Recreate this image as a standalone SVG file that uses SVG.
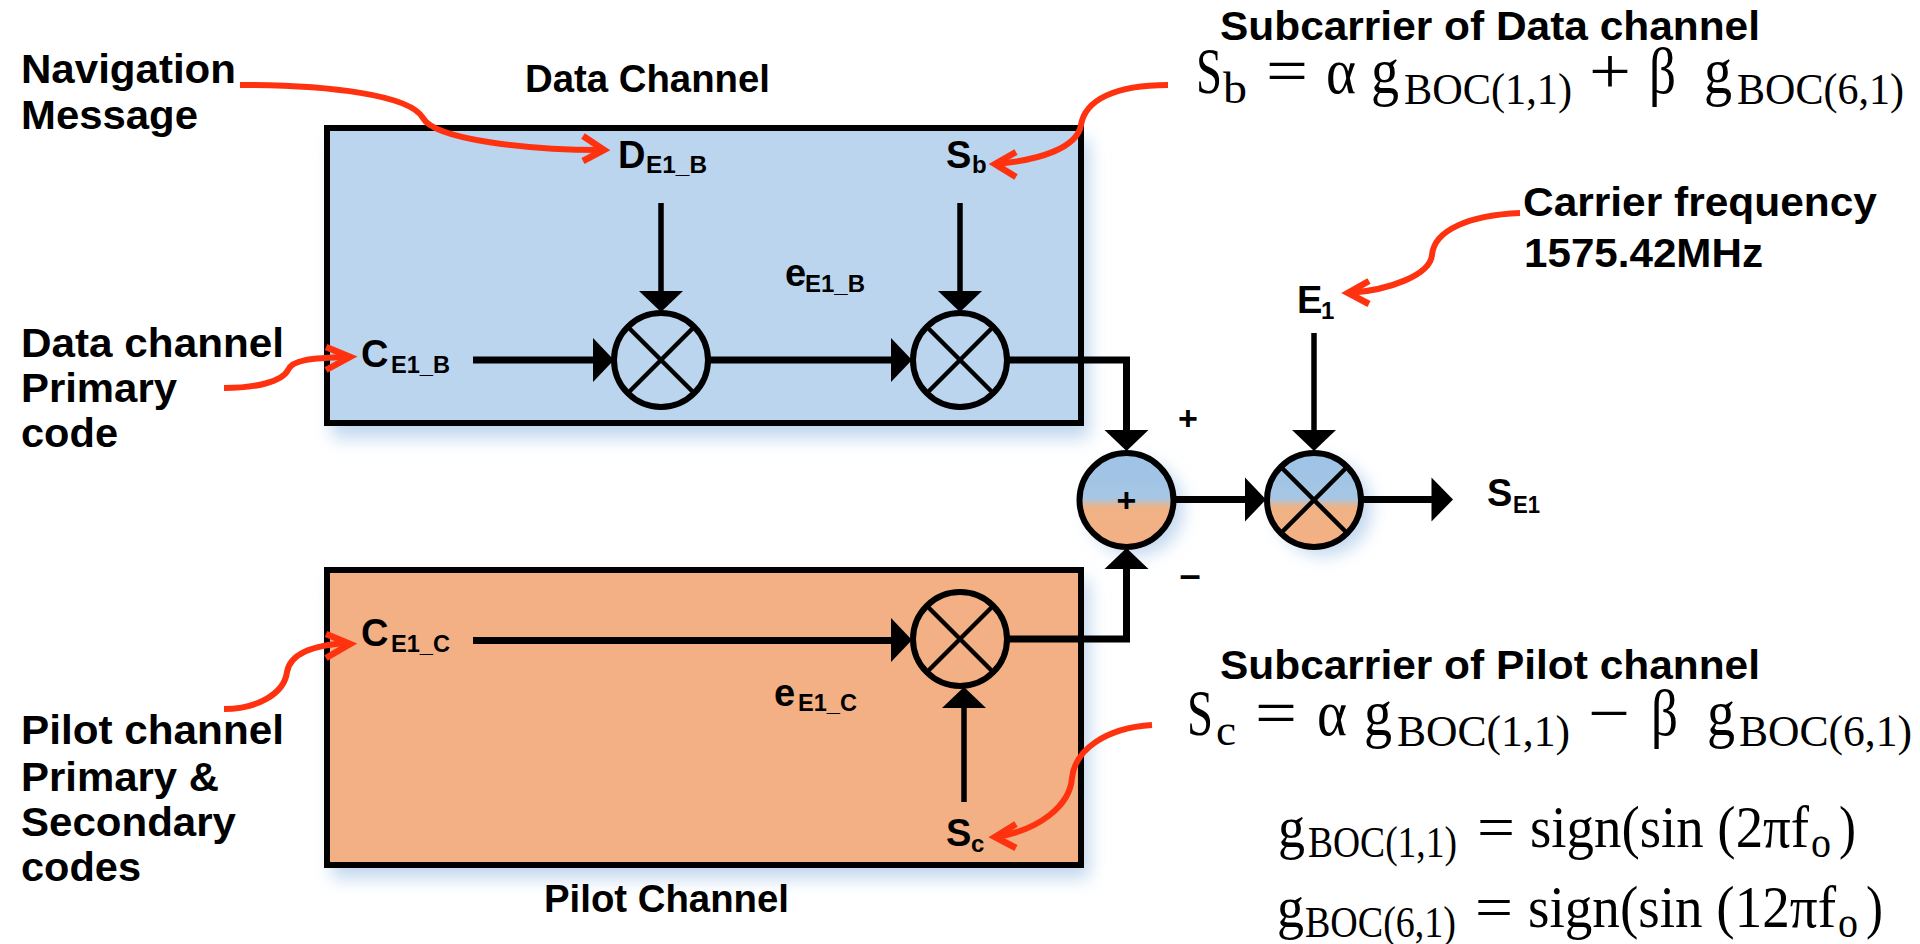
<svg xmlns="http://www.w3.org/2000/svg" width="1920" height="944" viewBox="0 0 1920 944">
<style>
text{font-family:"Liberation Sans",Arial,sans-serif;fill:#000}
.b{font-weight:700}
.big{font-size:41px;font-weight:700}
.lab{font-size:38px;font-weight:700}
.sub{font-size:24px;font-weight:700}
.m{font-family:"Liberation Serif","Times New Roman",serif;font-size:66px}
.ms{font-family:"Liberation Serif","Times New Roman",serif;font-size:44px}
.c{stroke:#000;stroke-width:6}
.x{stroke:#000;stroke-width:4.5;fill:none}
.w{fill:none;stroke:#000;stroke-width:5.5}
.w6{stroke-width:7}
.r{fill:none;stroke:#ff3210;stroke-width:6}
.h{fill:none;stroke:#ff3210;stroke-width:6.5}
.a{fill:#000}
</style>
<defs>
<linearGradient id="grad" x1="0" y1="0" x2="0" y2="1">
<stop offset="0" stop-color="#9dc3e6"/><stop offset="0.48" stop-color="#a6c6e4"/><stop offset="0.58" stop-color="#f0b285"/><stop offset="1" stop-color="#f3b084"/>
</linearGradient>
<filter id="sh" x="-10%" y="-10%" width="120%" height="130%">
<feGaussianBlur stdDeviation="9"/>
</filter>
</defs>
<rect width="1920" height="944" fill="#fff"/>
<g id="shadows" fill="#bfd5ee" filter="url(#sh)">
<rect x="332" y="140" width="757" height="298"/>
<rect x="332" y="580" width="757" height="298"/>
<circle cx="1136" cy="508" r="47"/>
<circle cx="1324" cy="508" r="47"/>
</g>
<g id="data-channel">
<rect x="327" y="128" width="754" height="295" fill="#bbd5ee" stroke="#000" stroke-width="6"/>
<text class="lab" x="525" y="92" textLength="245" lengthAdjust="spacingAndGlyphs">Data Channel</text>
</g>
<g id="pilot-channel">
<rect x="327" y="570" width="754" height="295" fill="#f2b084" stroke="#000" stroke-width="6"/>
<text class="lab" x="544" y="912" textLength="245" lengthAdjust="spacingAndGlyphs">Pilot Channel</text>
</g>
<g id="connectors">
<path class="w w6" d="M473 360H600"/><path class="a" d="M593 338L614 360L593 382Z"/>
<path class="w" d="M661 203V295"/><path class="a" d="M639 291H683L661 312Z"/>
<path class="w w6" d="M706 360H895"/><path class="a" d="M891 338L912 360L891 382Z"/>
<path class="w" d="M960 203V295"/><path class="a" d="M938 291H982L960 312Z"/>
<path class="w w6" d="M1006 360H1126.500V435" stroke-linejoin="miter"/><path class="a" d="M1104.500 430H1148.500L1126.500 451Z"/>
<path class="w" d="M1314 333V435"/><path class="a" d="M1292 430H1336L1314 451Z"/>
<path class="w w6" d="M1172 499.500H1250"/><path class="a" d="M1245 477.500L1266 499.500L1245 521.500Z"/>
<path class="w w6" d="M1360 499.500H1436"/><path class="a" d="M1431.500 477.500L1453 499.500L1431.500 521.500Z"/>
<path class="w w6" d="M473 640.500H895"/><path class="a" d="M891 618L912 640L891 662Z"/>
<path class="w w6" d="M1006 639H1126.500V565"/><path class="a" d="M1104.500 569H1148.500L1126.500 548Z"/>
<path class="w" d="M964 802V704"/><path class="a" d="M942 708H986L964 687Z"/>
</g>
<g id="mult-1"><circle class="c" cx="661" cy="360" r="47" fill="#bbd5ee"/><path class="x" d="M628 327L694 393M694 327L628 393"/></g>
<g id="mult-2"><circle class="c" cx="960" cy="360" r="47" fill="#bbd5ee"/><path class="x" d="M927 327L993 393M993 327L927 393"/></g>
<g id="mult-3"><circle class="c" cx="960" cy="639" r="47" fill="#f2b084"/><path class="x" d="M927 606L993 672M993 606L927 672"/></g>
<g id="sum"><circle class="c" cx="1126.500" cy="500" r="47" fill="url(#grad)"/><text class="b" x="1126.500" y="512" font-size="34" text-anchor="middle">+</text></g>
<g id="mult-4"><circle class="c" cx="1314" cy="500" r="47" fill="url(#grad)"/><path class="x" d="M1281 467L1347 533M1347 467L1281 533"/></g>
<g id="signs">
<text class="b" x="1188" y="430" font-size="34" text-anchor="middle">+</text>
<text class="b" x="1190" y="588" font-size="38" text-anchor="middle">–</text>
</g>
<g id="signal-labels">
<text class="lab" x="618" y="168">D<tspan class="sub" x="646" y="173" textLength="61" lengthAdjust="spacingAndGlyphs">E1_B</tspan></text>
<text class="lab" x="946" y="168">S<tspan class="sub" x="972" y="173">b</tspan></text>
<text class="lab" x="361" y="367">C<tspan class="sub" x="391" y="373" textLength="59" lengthAdjust="spacingAndGlyphs">E1_B</tspan></text>
<text class="lab" x="785" y="286">e<tspan class="sub" x="805" y="292" textLength="60" lengthAdjust="spacingAndGlyphs">E1_B</tspan></text>
<text class="lab" x="361" y="646">C<tspan class="sub" x="391" y="652" textLength="59" lengthAdjust="spacingAndGlyphs">E1_C</tspan></text>
<text class="lab" x="774" y="706">e<tspan class="sub" x="798" y="711" textLength="59" lengthAdjust="spacingAndGlyphs">E1_C</tspan></text>
<text class="lab" x="946" y="846">S<tspan class="sub" x="971" y="852">c</tspan></text>
<text class="lab" x="1297" y="313">E<tspan class="sub" x="1321" y="319">1</tspan></text>
<text class="lab" x="1487" y="506">S<tspan class="sub" x="1513" y="513" textLength="27" lengthAdjust="spacingAndGlyphs">E1</tspan></text>
</g>
<g id="callout-navigation">
<text class="big" x="21" y="83" textLength="215" lengthAdjust="spacingAndGlyphs">Navigation</text>
<text class="big" x="21" y="129" textLength="177" lengthAdjust="spacingAndGlyphs">Message</text>
<path class="r" d="M240 85C330 85 410 95 423 118C435 140 530 150 600 150"/>
<path class="h" d="M583 136L604 150L583 161"/>
</g>
<g id="callout-data-code">
<text class="big" x="21" y="357" textLength="263" lengthAdjust="spacingAndGlyphs">Data channel</text>
<text class="big" x="21" y="402" textLength="156" lengthAdjust="spacingAndGlyphs">Primary</text>
<text class="big" x="21" y="447" textLength="97" lengthAdjust="spacingAndGlyphs">code</text>
<path class="r" d="M224 388C255 388 282 382 288 370C292 360 310 358 348 357"/>
<path class="h" d="M326 347L350 357L326 370"/>
</g>
<g id="callout-pilot-code">
<text class="big" x="21" y="744" textLength="263" lengthAdjust="spacingAndGlyphs">Pilot channel</text>
<text class="big" x="21" y="791" textLength="198" lengthAdjust="spacingAndGlyphs">Primary &amp;</text>
<text class="big" x="21" y="836" textLength="215" lengthAdjust="spacingAndGlyphs">Secondary</text>
<text class="big" x="21" y="881" textLength="120" lengthAdjust="spacingAndGlyphs">codes</text>
<path class="r" d="M224 709C255 709 284 695 287 672C290 655 310 645 348 643"/>
<path class="h" d="M326 634L350 644L326 658"/>
</g>
<g id="callout-carrier">
<text class="big" x="1523" y="216" textLength="354" lengthAdjust="spacingAndGlyphs">Carrier frequency</text>
<text class="big" x="1524" y="267" textLength="239" lengthAdjust="spacingAndGlyphs">1575.42MHz</text>
<path class="r" d="M1520 213C1470 215 1434 230 1432 255C1430 275 1390 290 1349 293"/>
<path class="h" d="M1369 281L1348 293L1369 304"/>
</g>
<g id="callout-sb">
<text class="big" x="1220" y="40" textLength="540" lengthAdjust="spacingAndGlyphs">Subcarrier of Data channel</text>
<text class="m" y="93"><tspan x="1196" textLength="26" lengthAdjust="spacingAndGlyphs">S</tspan><tspan class="ms" x="1223" y="103" textLength="24" lengthAdjust="spacingAndGlyphs">b</tspan><tspan x="1266" y="93" textLength="42" lengthAdjust="spacingAndGlyphs">=</tspan><tspan x="1326" textLength="30" lengthAdjust="spacingAndGlyphs">α</tspan><tspan x="1371" textLength="28" lengthAdjust="spacingAndGlyphs">g</tspan><tspan class="ms" x="1404" y="104" textLength="168" lengthAdjust="spacingAndGlyphs">BOC(1,1)</tspan><tspan x="1589" y="93" textLength="42" lengthAdjust="spacingAndGlyphs">+</tspan><tspan x="1649" textLength="27" lengthAdjust="spacingAndGlyphs">β</tspan><tspan x="1704" textLength="28" lengthAdjust="spacingAndGlyphs">g</tspan><tspan class="ms" x="1737" y="104" textLength="167" lengthAdjust="spacingAndGlyphs">BOC(6,1)</tspan></text>
<path class="r" d="M1168 85C1115 85 1085 100 1081 125C1077 148 1040 160 996 164"/>
<path class="h" d="M1016 152L995 164L1016 177"/>
</g>
<g id="callout-sc">
<text class="big" x="1220" y="679" textLength="540" lengthAdjust="spacingAndGlyphs">Subcarrier of Pilot channel</text>
<text class="m" y="735"><tspan x="1187" textLength="26" lengthAdjust="spacingAndGlyphs">S</tspan><tspan class="ms" x="1216" y="745" textLength="20" lengthAdjust="spacingAndGlyphs">c</tspan><tspan x="1255" y="735" textLength="42" lengthAdjust="spacingAndGlyphs">=</tspan><tspan x="1317" textLength="30" lengthAdjust="spacingAndGlyphs">α</tspan><tspan x="1364" textLength="28" lengthAdjust="spacingAndGlyphs">g</tspan><tspan class="ms" x="1397" y="746" textLength="173" lengthAdjust="spacingAndGlyphs">BOC(1,1)</tspan><tspan x="1588" y="735" textLength="42" lengthAdjust="spacingAndGlyphs">−</tspan><tspan x="1651" textLength="27" lengthAdjust="spacingAndGlyphs">β</tspan><tspan x="1707" textLength="28" lengthAdjust="spacingAndGlyphs">g</tspan><tspan class="ms" x="1739" y="746" textLength="173" lengthAdjust="spacingAndGlyphs">BOC(6,1)</tspan></text>
<path class="r" d="M1152 725C1105 728 1075 750 1072 778C1070 805 1040 830 996 837"/>
<path class="h" d="M1016 824L995 837L1016 848"/>
</g>
<g id="formula-boc11">
<text class="m" y="847" style="font-size:60px"><tspan x="1278" textLength="27" lengthAdjust="spacingAndGlyphs">g</tspan><tspan class="ms" x="1308" y="857" textLength="149" lengthAdjust="spacingAndGlyphs">BOC(1,1)</tspan><tspan x="1477" y="847" textLength="38" lengthAdjust="spacingAndGlyphs">=</tspan><tspan x="1530" textLength="279" lengthAdjust="spacingAndGlyphs">sign(sin (2πf</tspan><tspan class="ms" x="1811" y="857" textLength="20" lengthAdjust="spacingAndGlyphs">o</tspan><tspan x="1839" y="847" textLength="17" lengthAdjust="spacingAndGlyphs">)</tspan></text>
</g>
<g id="formula-boc61">
<text class="m" y="927" style="font-size:60px"><tspan x="1277" textLength="27" lengthAdjust="spacingAndGlyphs">g</tspan><tspan class="ms" x="1305" y="937" textLength="151" lengthAdjust="spacingAndGlyphs">BOC(6,1)</tspan><tspan x="1475" y="927" textLength="38" lengthAdjust="spacingAndGlyphs">=</tspan><tspan x="1528" textLength="308" lengthAdjust="spacingAndGlyphs">sign(sin (12πf</tspan><tspan class="ms" x="1838" y="937" textLength="20" lengthAdjust="spacingAndGlyphs">o</tspan><tspan x="1866" y="927" textLength="17" lengthAdjust="spacingAndGlyphs">)</tspan></text>
</g>
</svg>
